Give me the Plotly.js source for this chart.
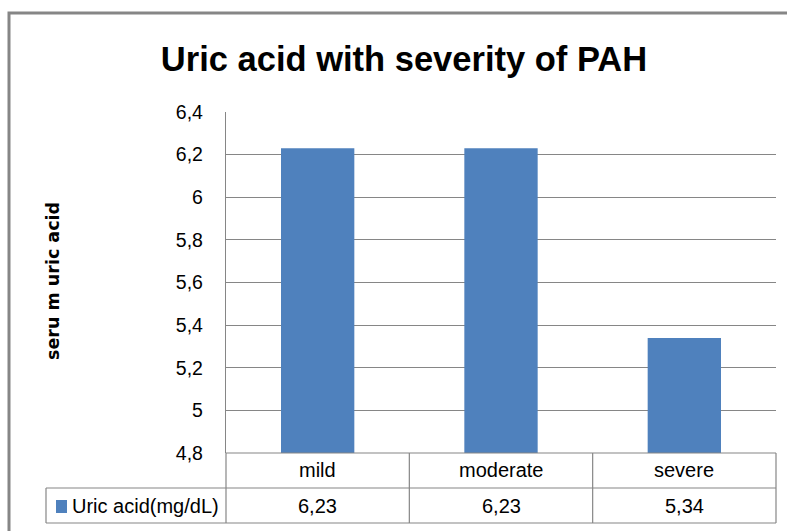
<!DOCTYPE html>
<html>
<head>
<meta charset="utf-8">
<script src="https://cdn.plot.ly/plotly-3.0.1.min.js"></script>
<style>html,body{margin:0;padding:0;background:#fff;}#chart{width:787px;height:531px;}</style>
</head>
<body>
<div id="chart"></div>
<script>
var categories = ["mild", "moderate", "severe"];
var values = [6.23, 6.23, 5.34];
var seriesName = "Uric acid(mg/dL)";
var yAxisTitle = "seru m uric acid";
var tickValues = [4.8, 5, 5.2, 5.4, 5.6, 5.8, 6, 6.2, 6.4];

var barColor = "#4F81BD";
var lineColor = "#868686";
var fontText = "Liberation Sans, Arial, sans-serif";

// plot area geometry in pixels
var L = 226, T = 112, W = 550, H = 341;
function px(x) { return (x - L) / W; }
function py(y) { return (T + H - y) / H; }

function fmt(v) { return String(v).replace(".", ","); }

var trace = {
  type: "bar",
  x: categories.map(function (c, i) { return i; }),
  y: values,
  name: seriesName,
  marker: { color: barColor, line: { width: 0 } },
  showlegend: false,
  hoverinfo: "skip"
};

var shapes = [];
var annotations = [];

// outer chart frame (left + top)
shapes.push({
  type: "path", xref: "paper", yref: "paper",
  path: "M " + px(9) + " " + py(540) + " L " + px(9) + " " + py(13) + " L " + px(800) + " " + py(13),
  line: { color: lineColor, width: 3 }
});

// data table lines
var yRow1Top = py(453), yRow2Top = py(488), yBottom = py(523);
function hline(x0, x1, y) {
  shapes.push({ type: "line", xref: "paper", yref: "paper", x0: px(x0), x1: px(x1), y0: y, y1: y, line: { color: lineColor, width: 1.2 } });
}
function vline(xpaper, y0, y1) {
  shapes.push({ type: "line", xref: "paper", yref: "paper", x0: xpaper, x1: xpaper, y0: y0, y1: y1, line: { color: lineColor, width: 1.2 } });
}
hline(226, 776, yRow1Top);
hline(46, 776, yRow2Top);
hline(46, 776, yBottom);
vline(px(46), yRow2Top, yBottom);
vline(px(226), yRow1Top, yBottom);
for (var i = 1; i < categories.length; i++) {
  vline(i / categories.length, yRow1Top, yBottom);
}
vline(1, yRow1Top, yBottom);

// legend key square
shapes.push({
  type: "rect", xref: "paper", yref: "paper",
  x0: px(56), x1: px(67), y0: py(513), y1: py(500),
  fillcolor: barColor, line: { width: 0 }
});

categories.forEach(function (c, i) {
  annotations.push({
    xref: "x", yref: "paper", x: i, y: py(470), text: c, showarrow: false,
    xanchor: "center", yanchor: "middle",
    font: { family: fontText, size: 20, color: "#000" }
  });
  annotations.push({
    xref: "x", yref: "paper", x: i, y: py(506), text: fmt(values[i]), showarrow: false,
    xanchor: "center", yanchor: "middle",
    font: { family: fontText, size: 20, color: "#000" }
  });
});
annotations.push({
  xref: "paper", yref: "paper", x: px(70), y: py(506), text: seriesName, showarrow: false,
  xanchor: "left", yanchor: "middle",
  font: { family: fontText, size: 20, color: "#000" }
});

// y-axis title
annotations.push({
  xref: "paper", yref: "paper", x: px(53), y: py(281), text: "<b>" + yAxisTitle + "</b>",
  showarrow: false, textangle: -90, xanchor: "center", yanchor: "middle",
  font: { family: "DejaVu Sans, sans-serif", size: 17.5, color: "#000" }
});

var layout = {
  width: 787, height: 531,
  margin: { l: L, r: 787 - L - W, t: T, b: 531 - T - H, pad: 0 },
  paper_bgcolor: "#fff", plot_bgcolor: "#fff",
  separators: ",.",
  bargap: 0.6,
  title: {
    text: "<b>Uric acid with severity of PAH</b>",
    font: { family: fontText, size: 34.5, color: "#000" },
    xref: "container", yref: "container",
    x: 404 / 787, xanchor: "center",
    y: 1 - 59 / 531, yanchor: "middle"
  },
  xaxis: {
    range: [-0.5, categories.length - 0.5],
    showticklabels: false, showgrid: false, zeroline: false,
    showline: false, ticks: "", fixedrange: true
  },
  yaxis: {
    range: [4.8, 6.4],
    tickvals: tickValues,
    ticks: "", showline: true, linecolor: lineColor, linewidth: 1.2,
    showgrid: true, gridcolor: lineColor, gridwidth: 1.2,
    zeroline: false,
    ticklabelstandoff: 18,
    tickfont: { family: fontText, size: 19.5, color: "#000" },
    automargin: false
  },
  shapes: shapes,
  annotations: annotations,
  showlegend: false
};

Plotly.newPlot("chart", [trace], layout, { staticPlot: true, displayModeBar: false });
</script>
</body>
</html>
